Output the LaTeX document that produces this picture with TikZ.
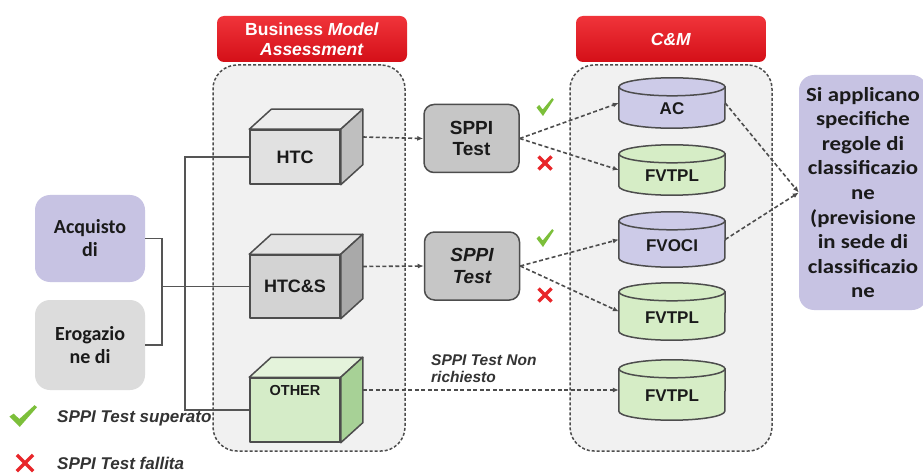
\documentclass[tikz,border=0pt]{standalone}
\usepackage{fontspec}
\setmainfont{Liberation Sans}
\newfontfamily\calib{Carlito}
\newfontfamily\calibw[FakeStretch=1.14]{Carlito}
\usetikzlibrary{arrows.meta}
\definecolor{edge}{HTML}{4D4D4D}
\definecolor{contfill}{HTML}{F1F1F1}
\definecolor{hdrtop}{HTML}{F0343A}
\definecolor{hdrbot}{HTML}{D40F18}
\definecolor{htcf}{HTML}{E1E1E1}
\definecolor{htct}{HTML}{EDEDED}
\definecolor{htcside}{HTML}{BFBFBF}
\definecolor{htcsf}{HTML}{D3D3D3}
\definecolor{htcst}{HTML}{E4E4E4}
\definecolor{htcsside}{HTML}{A9A9A9}
\definecolor{othf}{HTML}{D5ECC8}
\definecolor{otht}{HTML}{E4F3DB}
\definecolor{othside}{HTML}{A7D196}
\definecolor{sppifill}{HTML}{C6C6C6}
\definecolor{lavc}{HTML}{CDCBE8}
\definecolor{lavbox}{HTML}{C7C3E3}
\definecolor{greenc}{HTML}{D6EDC6}
\definecolor{erog}{HTML}{DCDCDC}
\definecolor{linegray}{HTML}{555555}
\definecolor{txt}{HTML}{1A1A1A}
\definecolor{chkgreen}{HTML}{7CBF3A}
\definecolor{crsred}{HTML}{E8262A}
\definecolor{legtxt}{HTML}{333333}
\pgfdeclarelayer{back}
\pgfdeclarelayer{mid}
\pgfsetlayers{back,mid,main}
\newcommand\cubefaces[3]{%
  \filldraw[cubeline, fill=#2] (#1.north west) -- ++(22,-20) -- ([shift={(22,-20)}]#1.north east) -- (#1.north east) -- cycle;
  \filldraw[cubeline, fill=#3] (#1.north east) -- ++(22,-20) -- ([shift={(22,-20)}]#1.south east) -- (#1.south east) -- cycle;}
\newcommand\cylshape[2]{%
  \filldraw[cubeline, fill=#2] (#1.north west) -- (#1.south west) arc[start angle=180, end angle=360, x radius=53pt, y radius=9pt] -- (#1.north east) -- cycle;
  \filldraw[cubeline, fill=#2] (#1.north) ellipse [x radius=53pt, y radius=9pt];}
\newcommand\cyltxt[1]{\smash{\raisebox{-11.5pt}{#1}}}
\begin{document}
\begin{tikzpicture}[x=1pt,y=-1pt,
  cont/.style={draw=edge, fill=contfill, dash pattern=on 3pt off 2pt, line width=1.5pt, rounded corners=24pt, inner sep=0},
  hdr/.style={top color=hdrtop, bottom color=hdrbot, rounded corners=7pt, minimum width=190pt, minimum height=46pt, text=white, align=center, inner sep=0, font=\fontsize{17.5}{20}\selectfont\bfseries},
  cubeline/.style={draw=edge, line width=1.5pt, line join=round},
  front/.style={draw=edge, line width=1.5pt, line join=round, minimum width=90pt, inner sep=0, text=txt, font=\fontsize{18}{20}\selectfont\bfseries},
  sppi/.style={draw=edge, fill=sppifill, line width=1.5pt, rounded corners=10pt, minimum width=95pt, minimum height=68pt, inner sep=0, align=center, text=txt, font=\fontsize{19}{21.5}\selectfont\bfseries},
  cyl/.style={minimum width=106pt, inner sep=0, text=txt, font=\fontsize{17}{20}\selectfont\bfseries},
  sidebox/.style={rounded corners=15pt, inner sep=0, align=center, text=txt},
  darr/.style={draw=edge, line width=1.6pt, dash pattern=on 4pt off 2.5pt, -{Latex[length=6pt,width=5pt]}},
  conn/.style={draw=linegray, line width=1.6pt},
  chk/.pic={\fill[chkgreen] (-8.5,0.5) -- (-5.8,-2) -- (-2.3,2.5) -- (7.2,-9) -- (8.8,-7.4) -- (-2,9) -- cycle;},
  crs/.pic={\draw[crsred, line width=3.2pt] (-6.5,-6.5) -- (6.5,6.5) (-6.5,6.5) -- (6.5,-6.5);},
  legend/.style={anchor=west, inner sep=0, text=legtxt, font=\fontsize{17}{20}\selectfont\bfseries\itshape}
]
\useasboundingbox (0,0) rectangle (923,473);
% containers
\begin{pgfonlayer}{back}
\fill[white] (0,0) rectangle (923,473);
\node[cont, minimum width=192pt, minimum height=386pt] (bmabox) at (309,258) {};
\node[cont, minimum width=202pt, minimum height=386pt] (cmbox) at (671,258) {};
\end{pgfonlayer}
% headers
\node[hdr] (bmahdr) at (312,39) {Business \textit{Model}\\\textit{Assessment}};
\node[hdr] (cmhdr) at (671,39) {\textit{C\&M}};
% cubes
\node[front, fill=htcf, minimum height=54pt] (htc) at (295,157) {HTC};
\node[front, fill=htcsf, minimum height=63pt] (htcs) at (295,286.5) {HTC\&S};
\node[front, fill=othf, minimum height=64pt, text height=11pt, text depth=41pt, font=\fontsize{14.5}{17}\selectfont\bfseries] (other) at (295,410) {OTHER};
\begin{pgfonlayer}{mid}
\cubefaces{htc}{htct}{htcside}
\cubefaces{htcs}{htcst}{htcsside}
\cubefaces{other}{otht}{othside}
\end{pgfonlayer}
% SPPI tests
\node[sppi] (s1) at (471.5,138.5) {SPPI\\Test};
\node[sppi, font=\fontsize{19}{21.5}\selectfont\bfseries\itshape] (s2) at (472,266) {SPPI\\Test};
% cylinders
\node[cyl, minimum height=32pt] (ac) at (672,103) {\cyltxt{AC}};
\node[cyl, minimum height=32pt] (f1) at (672,170) {\cyltxt{FVTPL}};
\node[cyl, minimum height=37pt] (fvoci) at (672,239.5) {\cyltxt{FVOCI}};
\node[cyl, minimum height=39pt] (f2) at (672,311.5) {\cyltxt{FVTPL}};
\node[cyl, minimum height=42pt] (f3) at (672,390) {\cyltxt{FVTPL}};
\begin{pgfonlayer}{mid}
\cylshape{ac}{lavc}
\cylshape{f1}{greenc}
\cylshape{fvoci}{lavc}
\cylshape{f2}{greenc}
\cylshape{f3}{greenc}
\end{pgfonlayer}
% side boxes
\node[sidebox, fill=lavbox, minimum width=110pt, minimum height=87pt, font=\calib\fontsize{20}{23}\selectfont\bfseries] (acq) at (90,238.5) {Acquisto\\di};
\node[sidebox, fill=erog, minimum width=110pt, minimum height=90pt, font=\calib\fontsize{20}{23}\selectfont\bfseries] (ero) at (90,345) {Erogazio\\ne di};
\node[sidebox, fill=lavbox, minimum width=128pt, minimum height=235pt, font=\calibw\fontsize{20}{24.6}\selectfont\bfseries] (rbox) at (863,192.5) {Si applicano\\specifiche\\regole di\\classificazio\\ne\\(previsione\\in sede di\\classificazio\\ne};
% solid connectors
\coordinate (jn) at (162,286.5);
\coordinate (bus) at (185,157);
\draw[conn] (acq.east) -- (acq.east -| jn) -- (ero.east -| jn) -- (ero.east);
\draw[conn] (jn) -- (htcs.west);
\draw[conn] (htc.west) -- (bus) -- (other.west -| bus) -- (other.west);
% dashed arrows
\draw[darr] ([shift={(22,-20)}]htc.east) -- (s1.west);
\draw[darr] ([shift={(22,-20)}]htcs.east) -- (s2.west);
\draw[darr] ([shift={(22,-20)}]other.east) -- (f3.west);
\draw[darr] (s1.east) -- (ac.west);
\draw[darr] (s1.east) -- (f1.west);
\draw[darr] (s2.east) -- (fvoci.west);
\draw[darr] (s2.east) -- (f2.west);
\draw[darr] (ac.east) -- (rbox.west);
\draw[darr] (fvoci.east) -- (rbox.west);
% labels
\node[anchor=north west, inner sep=0, align=left, text=legtxt, font=\fontsize{15.5}{17.5}\selectfont\bfseries\itshape] (nonrich) at (431,354) {SPPI Test Non\\richiesto};
% marks
\pic at (545,107) {chk};
\pic at (545,163) {crs};
\pic at (545,238) {chk};
\pic at (545,295) {crs};
\pic[xscale=1.6,yscale=1.2] at (23,416) {chk};
\pic[scale=1.25] at (25,463) {crs};
\node[legend] (leg1) at (57,418) {SPPI Test superato};
\node[legend] (leg2) at (57,463) {SPPI Test fallita};
\end{tikzpicture}
\end{document}
